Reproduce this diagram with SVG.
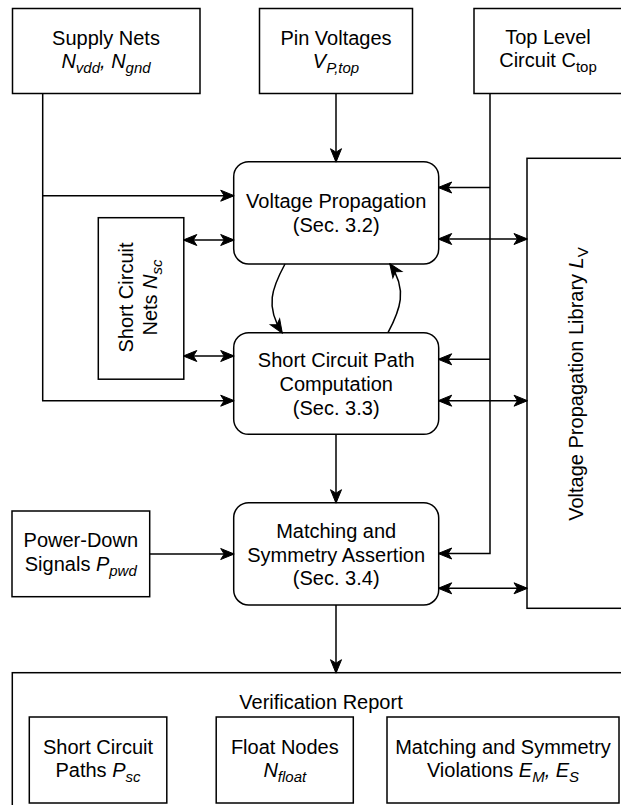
<svg xmlns="http://www.w3.org/2000/svg" width="621" height="805" viewBox="0 0 621 805">
<defs>
<style>
.box{fill:#fff;stroke:#000;stroke-width:1.5}
.ln{fill:none;stroke:#000;stroke-width:1.5}
.t{font-family:"Liberation Sans",Arial,Helvetica,sans-serif;font-size:20px;fill:#000;text-anchor:middle}
.sub{font-size:15px}
.i{font-style:italic}
</style>
<marker id="a" viewBox="-15 -7 16 14" refX="0" refY="0" markerWidth="16" markerHeight="14" markerUnits="userSpaceOnUse" orient="auto-start-reverse">
<path d="M0.5,0 L-13,-5.5 L-9.5,0 L-13,5.5 Z" fill="#000" stroke="#000" stroke-width="1" stroke-linejoin="miter"/>
</marker>
</defs>
<rect width="621" height="805" fill="#fff"/>

<g id="supply">
<rect class="box" x="12.5" y="8.5" width="187.5" height="85"/>
<text class="t"><tspan x="106" y="44.5">Supply Nets</tspan><tspan x="106" y="68" class="i">N<tspan class="sub" dy="5">vdd</tspan><tspan dy="-5">, N</tspan><tspan class="sub" dy="5">gnd</tspan></tspan></text>
</g>

<g id="pin">
<rect class="box" x="259.5" y="8.5" width="153" height="85"/>
<text class="t"><tspan x="336" y="44.5">Pin Voltages</tspan><tspan x="336" y="68" class="i">V<tspan class="sub" dy="5">P,top</tspan></tspan></text>
</g>

<g id="toplevel">
<rect class="box" x="474" y="8.5" width="148" height="85"/>
<text class="t"><tspan x="548" y="43.5">Top Level</tspan><tspan x="548" y="67">Circuit C<tspan class="sub" dy="5">top</tspan></tspan></text>
</g>

<g id="vp">
<rect class="box" x="233.7" y="161.7" width="205" height="102.3" rx="15" ry="15"/>
<text class="t"><tspan x="336.2" y="208.2">Voltage Propagation</tspan><tspan x="336.2" y="232.2">(Sec. 3.2)</tspan></text>
</g>

<g id="scnets">
<rect class="box" x="98.3" y="217.7" width="85.5" height="161.5"/>
<text class="t" transform="translate(141,297.5) rotate(-90)"><tspan x="0" y="-7.7">Short Circuit</tspan><tspan x="0" y="16">Nets <tspan class="i">N</tspan><tspan class="sub i" dy="5">sc</tspan></tspan></text>
</g>

<g id="scp">
<rect class="box" x="233.7" y="332.7" width="205" height="101.6" rx="15" ry="15"/>
<text class="t"><tspan x="336.2" y="366.7">Short Circuit Path</tspan><tspan x="336.2" y="390.9">Computation</tspan><tspan x="336.2" y="415">(Sec. 3.3)</tspan></text>
</g>

<g id="library">
<rect class="box" x="527" y="158.3" width="100" height="450"/>
<text class="t" transform="translate(576.7,384) rotate(-90)"><tspan x="0" y="6.5">Voltage Propagation Library <tspan class="i">L</tspan><tspan class="sub" dy="5">V</tspan></tspan></text>
</g>

<g id="powerdown">
<rect class="box" x="12" y="511" width="137.7" height="85.7"/>
<text class="t"><tspan x="80.8" y="547">Power-Down</tspan><tspan x="80.8" y="570.5">Signals <tspan class="i">P</tspan><tspan class="sub i" dy="5">pwd</tspan></tspan></text>
</g>

<g id="matching">
<rect class="box" x="233.7" y="502.7" width="205" height="102.3" rx="15" ry="15"/>
<text class="t"><tspan x="336.2" y="538">Matching and</tspan><tspan x="336.2" y="561.7">Symmetry Assertion</tspan><tspan x="336.2" y="585.4">(Sec. 3.4)</tspan></text>
</g>

<g id="report">
<rect class="box" x="12.3" y="672.7" width="620" height="140"/>
<text class="t" x="321" y="708.5">Verification Report</text>
</g>

<g id="scpaths">
<rect class="box" x="29.3" y="717" width="137.5" height="86"/>
<text class="t"><tspan x="98" y="753.5">Short Circuit</tspan><tspan x="98" y="777">Paths <tspan class="i">P</tspan><tspan class="sub i" dy="5">sc</tspan></tspan></text>
</g>

<g id="float">
<rect class="box" x="216.2" y="717" width="137.1" height="86"/>
<text class="t"><tspan x="284.8" y="753.5">Float Nodes</tspan><tspan x="284.8" y="777" class="i">N<tspan class="sub" dy="5">float</tspan></tspan></text>
</g>

<g id="violations">
<rect class="box" x="387" y="717" width="232" height="86"/>
<text class="t"><tspan x="503" y="753.5">Matching and Symmetry</tspan><tspan x="503" y="777">Violations <tspan class="i">E</tspan><tspan class="sub i" dy="5">M</tspan><tspan class="i" dy="-5">, E</tspan><tspan class="sub i" dy="5">S</tspan></tspan></text>
</g>

<g id="connectors">
<path class="ln" d="M336,93.3 V161.7" marker-end="url(#a)"/>
<path class="ln" d="M42.7,93.3 V400.7 H233.7" marker-end="url(#a)"/>
<path class="ln" d="M42.7,195.7 H233.7" marker-end="url(#a)"/>
<path class="ln" d="M490,93.3 V553.5 H438.7" marker-end="url(#a)"/>
<path class="ln" d="M490,187.5 H438.7" marker-end="url(#a)"/>
<path class="ln" d="M490,359.3 H438.7" marker-end="url(#a)"/>
<path class="ln" d="M438.7,239 H527" marker-start="url(#a)" marker-end="url(#a)"/>
<path class="ln" d="M438.7,400.7 H527" marker-start="url(#a)" marker-end="url(#a)"/>
<path class="ln" d="M438.7,588.3 H527" marker-start="url(#a)" marker-end="url(#a)"/>
<path class="ln" d="M183.8,240 H233.7" marker-start="url(#a)" marker-end="url(#a)"/>
<path class="ln" d="M183.8,356 H233.7" marker-start="url(#a)" marker-end="url(#a)"/>
<path class="ln" d="M285,264 C272,288 265,306 282,332.7" marker-end="url(#a)"/>
<path class="ln" d="M388,332.7 C400,310 408,290 390,264" marker-end="url(#a)"/>
<path class="ln" d="M336,434.3 V502.7" marker-end="url(#a)"/>
<path class="ln" d="M149.7,554 H233.7" marker-end="url(#a)"/>
<path class="ln" d="M336,605 V672.7" marker-end="url(#a)"/>
</g>
</svg>
